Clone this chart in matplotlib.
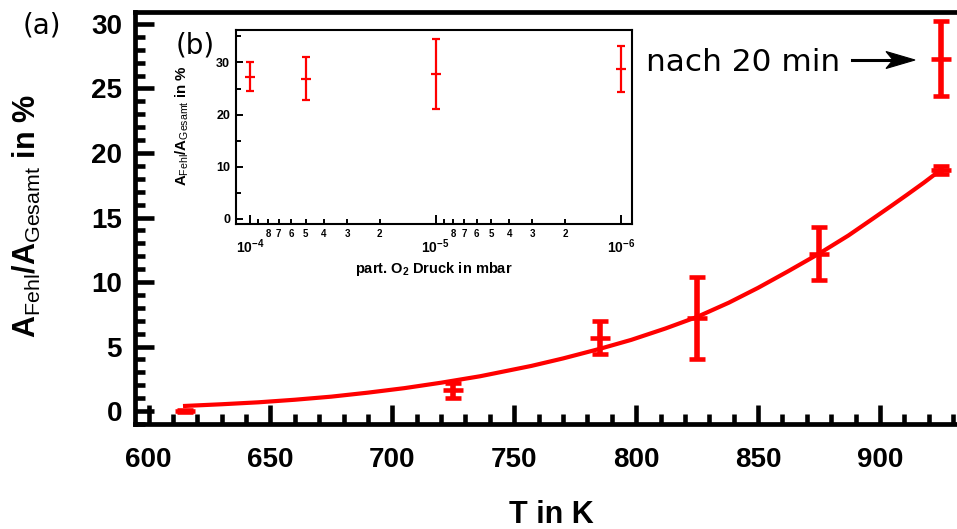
import matplotlib
matplotlib.use("Agg")
import matplotlib.pyplot as plt
from matplotlib.patches import Polygon
from matplotlib.ticker import MultipleLocator

plt.rcParams["font.family"] = "Liberation Sans"
plt.rcParams["mathtext.fontset"] = "custom"
plt.rcParams["mathtext.rm"] = "Liberation Sans"
plt.rcParams["mathtext.bf"] = "Liberation Sans:bold"
plt.rcParams["mathtext.it"] = "Liberation Sans:italic"

RED = "#ff0000"

# --- (a) Temperaturreihe ---
temps    = [615, 725, 785, 825, 875, 925]
fehl     = [0.0, 1.6, 5.7, 7.2, 12.2, 18.7]
fehl_err = [0.05, 0.55, 1.3, 3.2, 2.05, 0.3]

# Messung nach 20 min
temp_20min     = [925]
fehl_20min     = [27.3]
fehl_20min_err = [2.9]

# Fitkurve
fit_T = [615, 630, 645, 660, 675, 690, 705, 720, 736, 757, 770, 785, 798,
         812, 825, 838, 850, 862, 875, 887, 897, 905, 911, 918, 925]
fit_y = [0.4, 0.53, 0.68, 0.88, 1.12, 1.43, 1.78, 2.2, 2.7, 3.5, 4.08,
         4.82, 5.52, 6.4, 7.3, 8.4, 9.55, 10.8, 12.2, 13.6, 14.9, 15.95,
         16.75, 17.7, 18.7]

# --- (b) Druckreihe ---
druck      = [1e-4, 5e-5, 1e-5, 1e-6]
fehl_p     = [27.3, 26.9, 27.8, 28.7]
fehl_p_err = [2.8, 4.1, 6.7, 4.45]

druck_major        = [1e-4, 1e-5, 1e-6]
druck_major_labels = [r"$\mathbf{10^{-4}}$", r"$\mathbf{10^{-5}}$", r"$\mathbf{10^{-6}}$"]
druck_minor        = [9e-5, 8e-5, 7e-5, 6e-5, 5e-5, 4e-5, 3e-5, 2e-5,
                      9e-6, 8e-6, 7e-6, 6e-6, 5e-6, 4e-6, 3e-6, 2e-6]
druck_minor_labels = ["", "8", "7", "6", "5", "4", "3", "2",
                      "", "8", "7", "6", "5", "4", "3", "2"]

W, H = 957, 529
fig = plt.figure(figsize=(W / 100, H / 100), dpi=100)

# --- Hauptplot ---
ax = fig.add_axes([135 / W, 1 - 424 / H, 1 - 135 / W, (424 - 11.7) / H])
ax.plot(fit_T, fit_y, color=RED, lw=3.0, zorder=2, solid_joinstyle="round")
err_style = dict(fmt="_", color=RED, ms=15, mew=3.3, elinewidth=4,
                 capsize=5.8, capthick=3.3, zorder=3)
ax.errorbar(temps, fehl, yerr=fehl_err, **err_style)
ax.errorbar(temp_20min, fehl_20min, yerr=fehl_20min_err, **err_style)

ax.set_xlim(594.46, 931.6)
ax.set_ylim(-1.0, 30.95)
ax.xaxis.set_major_locator(MultipleLocator(50))
ax.xaxis.set_minor_locator(MultipleLocator(10))
ax.yaxis.set_major_locator(MultipleLocator(5))
ax.yaxis.set_minor_locator(MultipleLocator(1))
ax.tick_params(which="both", direction="in", width=3.3, top=False, right=False)
ax.tick_params(which="major", length=13.5)
ax.tick_params(which="minor", length=7)
ax.tick_params(axis="y", which="major", pad=9.4, labelsize=20)
ax.tick_params(axis="x", which="major", pad=16.5, labelsize=20)
for lab in ax.get_xticklabels() + ax.get_yticklabels():
    lab.set_fontweight("bold")
for side in ("left", "bottom", "top"):
    ax.spines[side].set_linewidth(3.4)
ax.spines["right"].set_visible(False)

fig.text(551 / W, 1 - 523.3 / H, "T in K", fontsize=22, fontweight="bold",
         ha="center", va="baseline")
fig.text(35.5 / W, 1 - 216 / H,
         r"A$_{\mathrm{Fehl}}$/A$_{\mathrm{Gesamt}}$ in %",
         fontsize=22, fontweight="bold", rotation=90, rotation_mode="anchor",
         ha="center", va="baseline")

fig.text(41.7 / W, 1 - 33.3 / H, "(a)", family="DejaVu Sans", fontsize=20,
         ha="center", va="baseline")
fig.text(646 / W, 1 - 70.7 / H, "nach 20 min", family="DejaVu Sans",
         fontsize=22.5, ha="left", va="baseline")

# Pfeil auf die 20-min-Messung (Pixelkoordinaten, y von oben)
fig.add_artist(plt.Line2D([851.7 / W, 896 / W], [1 - 60 / H, 1 - 60 / H],
                          color="black", lw=2.2))
head_px = [(915, 60), (886, 51.5), (893, 60), (886, 68.5)]
fig.add_artist(Polygon([(x / W, 1 - y / H) for x, y in head_px], closed=True,
                       facecolor="black", edgecolor="black", lw=0.8,
                       transform=fig.transFigure))

# --- Inset (b) ---
axi = fig.add_axes([236 / W, 1 - 224 / H, (631.5 - 236) / W, (224 - 30.3) / H])
axi.errorbar(druck, fehl_p, yerr=fehl_p_err, fmt="_", color=RED, ms=7,
             mew=1.6, elinewidth=1.6, capsize=3.2, capthick=1.6)
axi.set_xscale("log")
axi.set_xlim(10 ** -3.9245, 10 ** -6.0566)
axi.set_ylim(-1.02, 36.18)
axi.set_xticks(druck_major, labels=druck_major_labels)
axi.set_xticks(druck_minor, labels=druck_minor_labels, minor=True)
axi.yaxis.set_major_locator(MultipleLocator(10))
axi.yaxis.set_minor_locator(MultipleLocator(5))
axi.tick_params(which="both", direction="in", width=1.4, top=False, right=False)
axi.tick_params(axis="y", which="major", length=5, pad=4.3, labelsize=9)
axi.tick_params(axis="y", which="minor", length=3.5)
axi.tick_params(axis="x", which="major", length=6.5, pad=10, labelsize=10)
axi.tick_params(axis="x", which="minor", length=3.3, pad=3.6, labelsize=7)
for lab in (axi.get_yticklabels() + axi.get_xticklabels(minor=True)):
    lab.set_fontweight("bold")
for sp in axi.spines.values():
    sp.set_linewidth(1.5)

fig.text(434 / W, 1 - 273.5 / H, r"part. O$_\mathbf{2}$ Druck in mbar",
         fontsize=10.5, fontweight="bold", ha="center", va="baseline")
fig.text(187 / W, 1 - 126 / H,
         r"A$_{\mathrm{Fehl}}$/A$_{\mathrm{Gesamt}}$ in %",
         fontsize=10.8, fontweight="bold", rotation=90, rotation_mode="anchor",
         ha="center", va="baseline")
fig.text(195 / W, 1 - 53.5 / H, "(b)", family="DejaVu Sans", fontsize=20,
         ha="center", va="baseline")

fig.savefig("out.png", dpi=100)
